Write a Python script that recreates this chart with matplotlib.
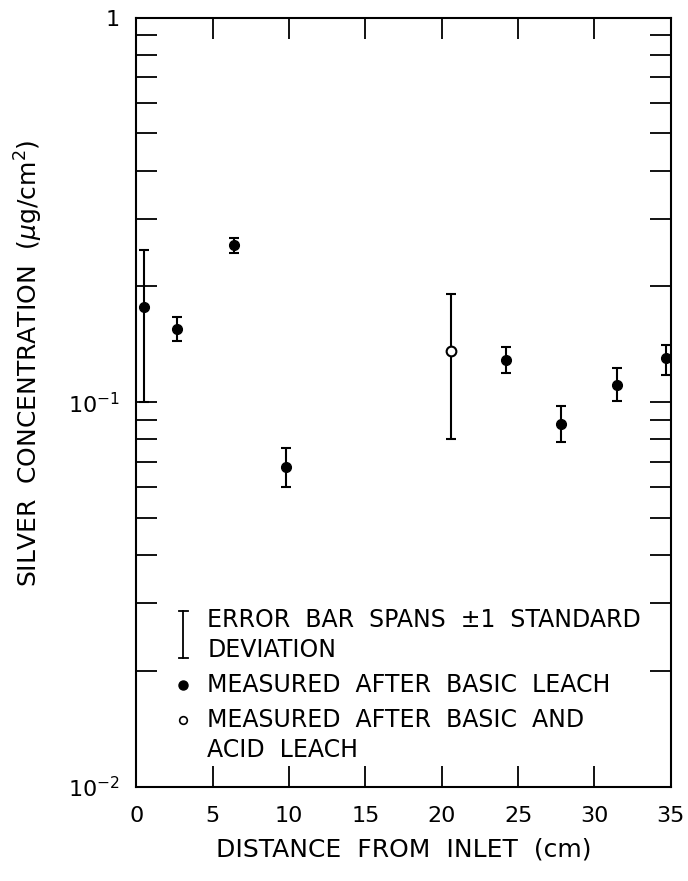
import numpy as np
import matplotlib
matplotlib.use("Agg")
import matplotlib.pyplot as plt
from matplotlib.ticker import LogLocator, FixedLocator, NullFormatter

# distance from inlet (cm), concentration (ug/cm2) and error-bar ends
basic_x = [0.5, 2.7, 6.4, 9.8, 24.2, 27.8, 31.5, 34.7]
basic_y = [0.177, 0.155, 0.256, 0.068, 0.129, 0.088, 0.111, 0.130]
basic_lo = [0.100, 0.144, 0.244, 0.060, 0.119, 0.079, 0.101, 0.118]
basic_hi = [0.249, 0.167, 0.268, 0.076, 0.139, 0.098, 0.123, 0.141]

acid_x = [20.6]
acid_y = [0.136]
acid_lo = [0.080]
acid_hi = [0.191]

x_ticks = [0, 5, 10, 15, 20, 25, 30, 35]
y_ticks = [0.01, 0.1, 1]
y_tick_labels = ["$10^{-2}$", "$10^{-1}$", "1"]

plt.rcParams["font.family"] = ["DejaVu Sans"]
plt.rcParams["mathtext.fontset"] = "dejavusans"

fig = plt.figure(figsize=(6.88, 8.81), dpi=100)
ax = fig.add_axes([0.198, 0.107, 0.777, 0.873])

bx = np.array(basic_x)
by = np.array(basic_y)
berr = [by - np.array(basic_lo), np.array(basic_hi) - by]
ax.errorbar(bx, by, yerr=berr, fmt="o", color="black", ms=7,
            capsize=3.5, elinewidth=1.5, capthick=1.5)

ax_ = np.array(acid_x)
ay = np.array(acid_y)
aerr = [ay - np.array(acid_lo), np.array(acid_hi) - ay]
ax.errorbar(ax_, ay, yerr=aerr, fmt="o", color="black", mfc="white",
            mew=1.5, ms=7, capsize=3.5, elinewidth=1.5, capthick=1.5)

ax.set_yscale("log")
ax.set_xlim(0, 35)
ax.set_ylim(0.01, 1)
ax.xaxis.set_major_locator(FixedLocator(x_ticks))
ax.set_xticklabels([str(t) for t in x_ticks])
ax.yaxis.set_major_locator(FixedLocator(y_ticks))
ax.set_yticklabels(y_tick_labels)
ax.yaxis.set_minor_locator(LogLocator(base=10, subs=np.arange(2, 10)))
ax.yaxis.set_minor_formatter(NullFormatter())

ax.tick_params(which="both", direction="in", top=True, right=True,
               width=1.3, labelsize=16, length=15)
ax.tick_params(axis="x", pad=14)
ax.tick_params(axis="y", pad=12)
for s in ax.spines.values():
    s.set_linewidth(1.5)

ax.set_xlabel("DISTANCE  FROM  INLET  (cm)", fontsize=18, labelpad=8)
ax.set_ylabel("SILVER  CONCENTRATION  ($\\mu$g/cm$^2$)", fontsize=18)
ax.yaxis.set_label_coords(-0.17, 0.55)

# hand-drawn key inside the frame
tr = ax.transAxes
ax.plot([0.088, 0.088], [0.168, 0.228], color="black", lw=1.3, transform=tr)
ax.plot([0.08, 0.096], [0.228, 0.228], color="black", lw=1.3, transform=tr)
ax.plot([0.08, 0.096], [0.168, 0.168], color="black", lw=1.3, transform=tr)
ax.plot([0.088], [0.1326], "o", color="black", ms=6.5, transform=tr)
ax.plot([0.088], [0.087], "o", color="black", mfc="white", ms=5.5, mew=1.2,
        transform=tr)

key_lines = [
    ("ERROR  BAR  SPANS  \u00b11  STANDARD", 0.217),
    ("DEVIATION", 0.178),
    ("MEASURED  AFTER  BASIC  LEACH", 0.1326),
    ("MEASURED  AFTER  BASIC  AND", 0.087),
    ("ACID  LEACH", 0.048),
]
for txt, yy in key_lines:
    ax.text(0.133, yy, txt, transform=tr, fontsize=17, va="center",
            ha="left")

fig.savefig("out.png", dpi=100, facecolor="white")
